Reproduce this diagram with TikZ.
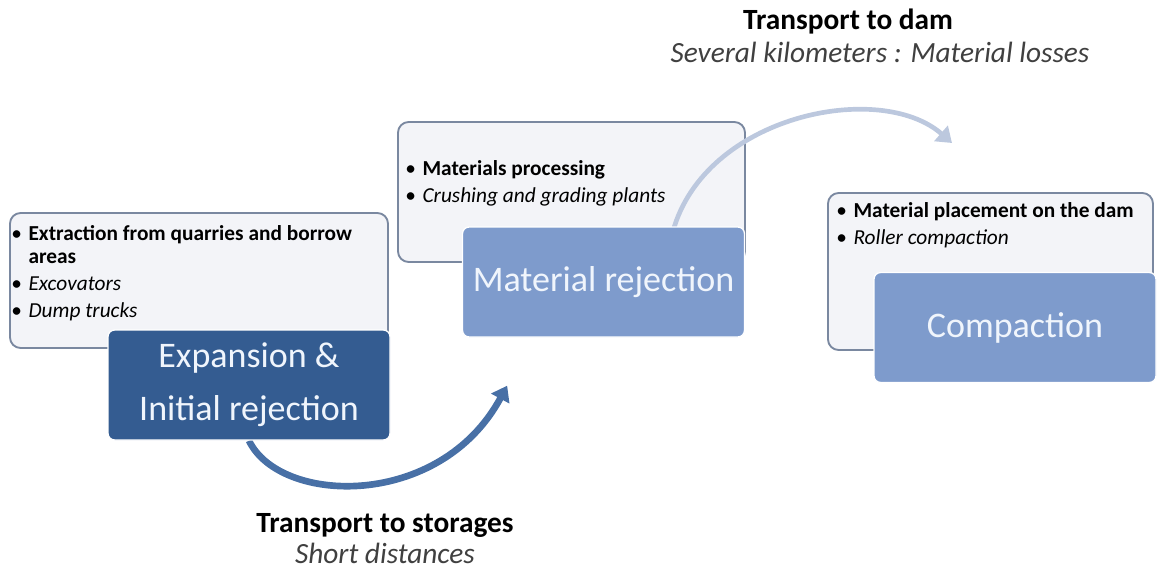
\documentclass[tikz,border=0pt]{standalone}
\usepackage{fontspec}
\setmainfont{Carlito}
\usetikzlibrary{arrows.meta, positioning, backgrounds}

\definecolor{panelfill}{RGB}{243,244,248}
\definecolor{panelline}{RGB}{122,136,160}
\definecolor{darkstep}{RGB}{52,92,145}
\definecolor{lightstep}{RGB}{126,155,204}
\definecolor{haularrow}{RGB}{72,112,166}
\definecolor{damarrow}{RGB}{188,200,222}
\definecolor{steptext}{RGB}{240,245,252}

\begin{document}
\begin{tikzpicture}[x=0.75pt, y=-0.75pt,
						panel/.style={draw=panelline, line width=1.4pt, fill=panelfill, rounded corners=8pt, inner sep=0pt},
						stepbox/.style={draw=white, line width=1pt, rounded corners=5pt, minimum width=211.5pt, minimum height=82.5pt, inner sep=0pt, text=steptext, align=center, font=\fontsize{27}{40}\selectfont},
						items/.style={inner sep=0pt, anchor=base west, font=\fontsize{16}{17.25}\selectfont},
						title/.style={inner sep=0pt, font=\fontsize{22}{25}\selectfont\bfseries},
						sub/.style={inner sep=0pt, font=\fontsize{22}{25}\selectfont\itshape, text=black!75},
						haul/.style={line width=#1, line cap=butt, -{Triangle[length=11pt, width=15pt]}},]
		\useasboundingbox (0,0) rectangle (1157,575);

		% grey panels with the tasks
		\begin{scope}[on background layer]
		\node (p1) [panel, minimum width=283.5pt, minimum height=101.25pt] at (199,280.5) {};
		\node (p2) [panel, minimum width=260.25pt, minimum height=105pt] at (571.5,192) {};
		\node (p3) [panel, minimum width=243.75pt, minimum height=117.75pt] at (990.5,271.5) {};
		\end{scope}

		\node (t1) [items] at (11,240) {\begin{tabular}[t]{@{}l@{\hspace{5pt}}l@{}}
				\textbullet & \textbf{Extraction from quarries and borrow}\\
				 & \textbf{areas}\\[3pt]
				\textbullet & \textit{Excovators}\\[3pt]
				\textbullet & \textit{Dump trucks}
			\end{tabular}};
		\node (t2) [items] at (405,175) {\begin{tabular}[t]{@{}l@{\hspace{5pt}}l@{}}
				\textbullet & \textbf{Materials processing}\\[3pt]
				\textbullet & \textit{Crushing and grading plants}
			\end{tabular}};
		\node (t3) [items] at (836,217) {\begin{tabular}[t]{@{}l@{\hspace{5pt}}l@{}}
				\textbullet & \textbf{Material placement on the dam}\\[3pt]
				\textbullet & \textit{Roller compaction}
			\end{tabular}};

		% the three steps
		\node (b1) [stepbox, fill=darkstep] at (249,385) {Expansion \&\\Initial rejection};
		\node (b2) [stepbox, fill=lightstep] at (603.5,282) {Material rejection};
		\node (b3) [stepbox, fill=lightstep] at (1015,327.5) {Compaction};

		% transport labels
		\node (st) [title] at (385,525) {Transport to storages};
		\node (sd) [sub, below=4pt of st] {Short distances};
		\node (dt) [title] at (848,22) {Transport to dam};
		\node (dl) [sub, below=5pt of dt, xshift=24pt] {Several kilometers : Material losses};

		% arrow ends
		\coordinate (s1) at ([xshift=34pt, yshift=-36pt]b2.south west);
		\coordinate (s2) at ([xshift=52pt, yshift=-4pt]b2.north);
		\coordinate (e2) at (952,143);

		\begin{scope}[on background layer]
		\draw [haul=5pt, haularrow] (b1.south) .. controls (280,505) and (440,510) .. (s1);
		\draw [haul=3.5pt, damarrow] (s2) .. controls (705,115) and (880,80) .. (e2);
		\end{scope}
	\end{tikzpicture}
\end{document}
